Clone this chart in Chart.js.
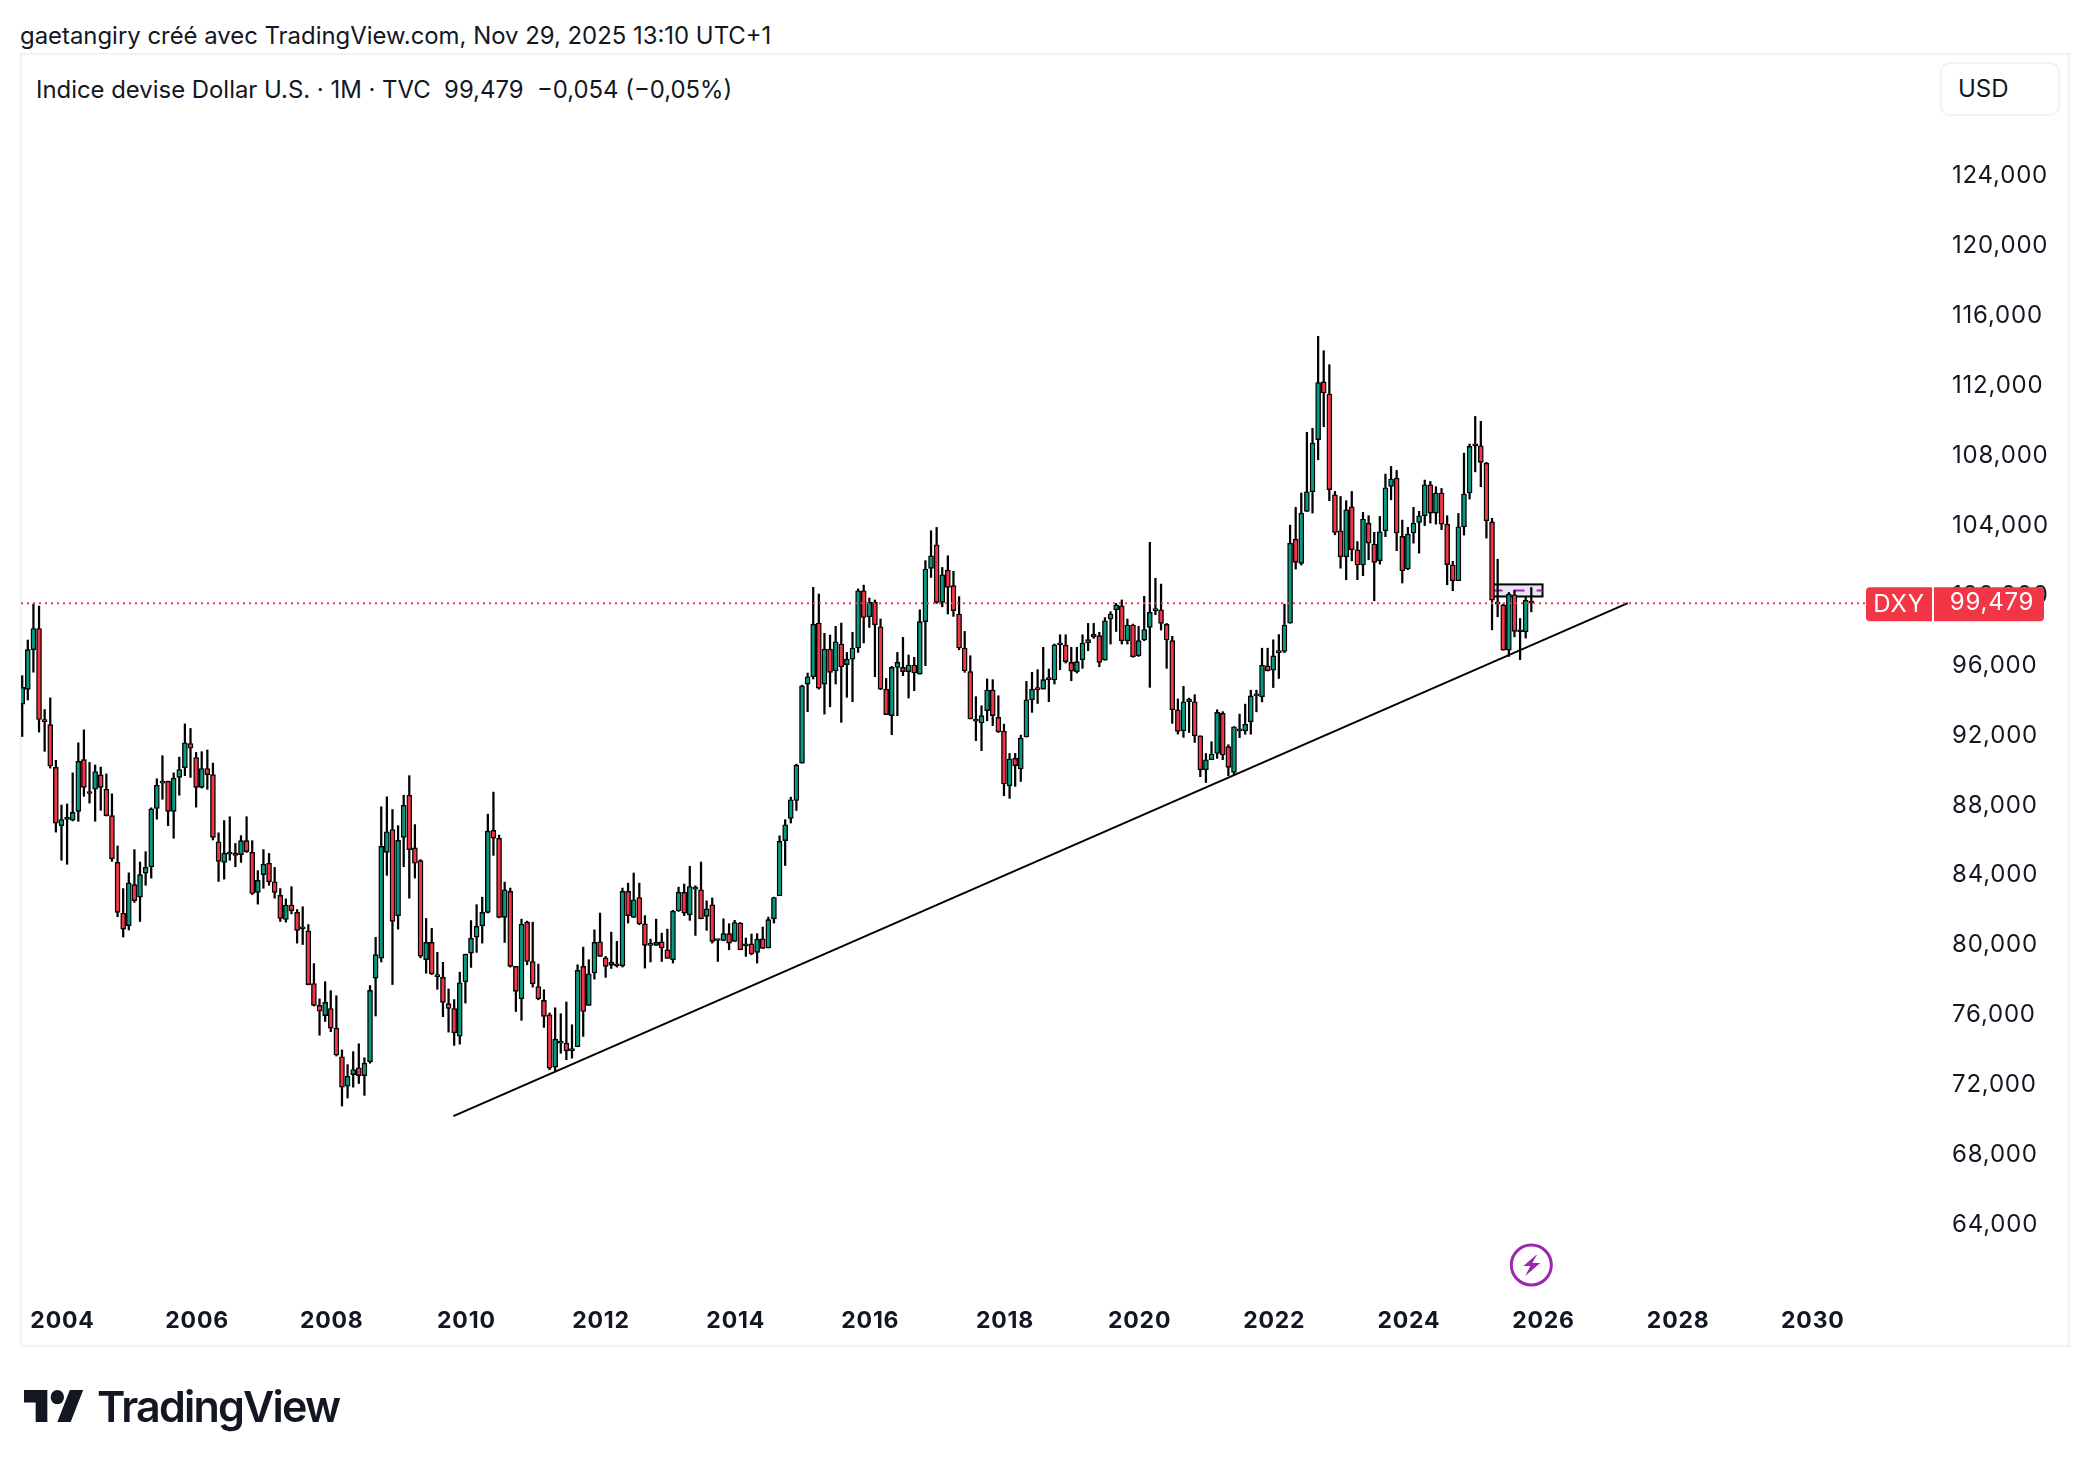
<!DOCTYPE html>
<html lang="fr">
<head>
<meta charset="utf-8">
<title>DXY</title>
<script src="https://cdn.jsdelivr.net/npm/chart.js@4/dist/chart.umd.js"></script>
<style>
    html, body { margin: 0; padding: 0; background: #fff; }
    body { width: 2088px; height: 1466px; position: relative; overflow: hidden; font-family: Inter, sans-serif; color: #131722; }
    #chart { position: absolute; left: 0; top: 0; }
    .frame { position: absolute; left: 20px; top: 53px; width: 2046px; height: 1290px; border: 2px solid #f2f3f5; }
    .byline { position: absolute; left: 20px; top: 22px; font-size: 23.9px; line-height: 28px; white-space: nowrap; }
    .legend { position: absolute; left: 36px; top: 76px; font-size: 23.9px; line-height: 28px; white-space: pre; }
    .currency { position: absolute; left: 1940px; top: 62px; width: 116px; height: 50px; border: 2px solid #f2f3f5; border-radius: 10px; font-size: 24px; line-height: 50px; text-indent: 16px; }
    .logo { position: absolute; left: 24px; top: 1390px; width: 60px; height: 32px; }
    .brand { position: absolute; left: 97px; top: 1378px; font-size: 43px; line-height: 56px; font-weight: 600; letter-spacing: -1.8px; white-space: nowrap; }
</style>
</head>
<body>
<div class="frame"></div>
<div class="byline">gaetangiry créé avec TradingView.com, Nov 29, 2025 13:10 UTC+1</div>
<div class="legend">Indice devise Dollar U.S. · 1M · TVC  99,479  −0,054 (−0,05%)</div>
<div class="currency">USD</div>
<canvas id="chart" width="2088" height="1466"></canvas>
<svg class="logo" viewBox="0 4 36 18" preserveAspectRatio="none"><path fill="#131722" d="M14 22H7V11H0V4h14v18zM28 22h-8l7.5-18h8L28 22z"/><circle fill="#131722" cx="20" cy="8" r="4"/></svg>
<div class="brand">TradingView</div>
<script>
// Bougies mensuelles, de juin 2003 à novembre 2025 (une ligne par année)
const firstYear = 2003;
const firstMonth = 5;

const opens = [
    93.70, 94.55, 96.82, 98.03, 92.78, 92.53, 90.08,
    86.75, 87.10, 87.06, 87.57, 90.53, 88.69, 88.83, 89.65, 88.83, 87.32, 84.65, 81.74,
    81.03, 83.38, 82.66, 84.03, 84.40, 87.73, 89.18, 89.30, 87.57, 89.51, 90.06, 91.45,
    90.65, 88.94, 90.02, 89.67, 85.83, 84.65, 85.12, 85.18, 85.09, 85.89, 85.22, 82.93,
    83.95, 84.60, 83.54, 82.76, 81.38, 82.21, 81.79, 80.89, 80.72, 77.72, 76.47, 75.88,
    76.29, 75.17, 73.53, 71.84, 72.51, 72.90, 72.45, 73.24, 78.03, 79.17, 85.22, 86.53,
    81.60, 86.08, 88.49, 85.48, 84.75, 79.09, 80.07, 78.23, 78.07, 76.57, 76.29, 74.70,
    77.82, 79.46, 80.37, 81.02, 81.79, 86.48, 86.02, 81.50, 82.99, 78.70, 76.85, 81.23,
    78.98, 77.55, 76.75, 75.93, 72.94, 74.31, 74.31, 73.87, 74.10, 78.70, 76.47, 78.32,
    80.11, 79.19, 78.77, 78.85, 78.73, 82.99, 81.50, 82.64, 81.14, 79.90, 79.90, 80.11,
    79.65, 79.08, 81.88, 82.93, 81.65, 83.12, 83.08, 81.56, 82.22, 80.20, 80.18, 80.57,
    80.13, 81.18, 79.88, 79.99, 79.50, 80.28, 79.75, 81.42, 82.74, 85.89, 87.16, 88.19,
    90.33, 94.85, 95.27, 98.34, 94.85, 96.85, 95.61, 97.14, 95.96, 96.28, 96.91, 100.19,
    98.70, 99.52, 98.13, 94.56, 93.04, 95.80, 95.80, 95.56, 95.94, 95.42, 98.42, 101.47,
    102.82, 99.52, 101.37, 100.48, 98.86, 96.91, 95.56, 92.85, 92.62, 93.33, 94.51, 92.94,
    92.16, 89.03, 90.60, 89.99, 91.82, 93.95, 94.56, 94.56, 95.17, 95.08, 97.10, 97.08,
    96.09, 95.56, 96.24, 97.20, 97.54, 97.62, 96.22, 98.57, 99.10, 99.33, 97.33, 98.23,
    96.47, 97.37, 98.09, 99.05, 99.10, 98.26, 97.33, 93.38, 92.18, 93.84, 93.84, 91.89,
    89.95, 90.52, 90.88, 93.17, 91.27, 89.80, 92.17, 92.17, 92.69, 94.17, 94.12, 95.89,
    95.64, 96.65, 96.71, 98.33, 103.14, 101.75, 104.73, 105.85, 108.83, 112.14, 111.44, 105.68,
    103.62, 102.13, 104.99, 102.53, 101.66, 104.06, 102.86, 101.90, 103.62, 106.16, 106.63, 103.30,
    101.43, 103.49, 104.10, 104.48, 106.25, 104.63, 105.78, 104.00, 101.66, 100.76, 103.85, 105.78,
    108.52, 108.48, 107.49, 104.13, 99.54, 99.38, 96.79, 99.96, 97.84, 97.84, 99.53
];
const highs = [
    95.33, 97.37, 99.42, 99.31, 93.39, 94.06, 90.49,
    87.93, 87.99, 89.77, 91.49, 92.23, 90.37, 90.22, 90.10, 89.71, 88.57, 85.59, 83.15,
    84.05, 85.38, 84.67, 85.26, 87.77, 89.43, 90.75, 89.30, 89.77, 90.67, 92.57, 92.31,
    90.94, 90.98, 91.08, 90.33, 86.34, 87.04, 87.26, 85.73, 86.18, 87.26, 85.89, 84.18,
    85.38, 85.16, 84.36, 83.15, 82.56, 83.26, 81.95, 82.11, 81.09, 78.86, 76.84, 77.82,
    77.31, 77.02, 73.92, 73.08, 73.82, 74.27, 73.47, 77.60, 80.36, 87.83, 88.40, 87.67,
    86.75, 88.49, 89.61, 86.81, 84.81, 81.44, 80.87, 79.50, 78.93, 77.41, 76.80, 78.37,
    79.40, 81.32, 82.23, 82.66, 87.41, 88.67, 86.21, 83.52, 83.18, 78.70, 81.40, 81.29,
    81.23, 78.83, 77.36, 76.03, 76.33, 75.99, 76.66, 75.36, 78.79, 79.80, 79.08, 80.79,
    81.75, 79.27, 80.66, 80.13, 83.18, 83.46, 84.04, 83.46, 81.60, 80.26, 81.40, 80.60,
    80.83, 81.90, 83.23, 83.41, 84.42, 83.31, 84.67, 82.45, 82.61, 80.22, 81.42, 81.14,
    81.33, 81.21, 80.32, 80.55, 80.57, 80.95, 81.52, 82.66, 86.17, 87.09, 88.38, 90.27,
    94.79, 95.48, 100.38, 100.00, 97.75, 97.65, 98.15, 98.34, 96.66, 97.81, 100.29, 100.51,
    99.77, 99.66, 98.57, 95.17, 95.86, 96.66, 97.52, 96.51, 96.38, 99.10, 101.91, 103.62,
    103.81, 101.52, 102.19, 101.30, 99.85, 97.86, 96.47, 94.13, 93.61, 95.14, 95.10, 94.18,
    92.56, 90.88, 90.88, 91.93, 95.00, 95.52, 95.67, 96.95, 95.71, 97.14, 97.67, 97.67,
    96.95, 96.95, 97.67, 98.32, 98.32, 97.81, 98.65, 98.99, 99.46, 99.66, 98.57, 98.28,
    98.15, 99.87, 102.96, 100.90, 100.57, 98.32, 97.58, 94.00, 94.72, 94.05, 94.24, 91.89,
    90.88, 91.55, 93.38, 93.27, 91.38, 92.41, 93.13, 93.70, 94.50, 94.50, 96.90, 96.90,
    97.38, 97.68, 99.42, 103.94, 104.96, 105.78, 109.25, 109.48, 114.74, 113.92, 113.12, 105.87,
    105.58, 105.34, 105.87, 103.00, 104.67, 104.48, 103.53, 104.44, 106.86, 107.30, 107.07, 104.23,
    103.81, 104.96, 104.73, 106.52, 106.44, 106.14, 106.04, 104.48, 101.87, 104.61, 108.06, 108.58,
    110.16, 109.88, 107.53, 104.33, 101.99, 99.42, 100.09, 100.22, 98.60, 99.80, 100.37
];
const lows = [
    91.85, 93.94, 95.53, 92.10, 91.00, 90.04, 86.38,
    84.77, 84.54, 87.02, 87.00, 88.43, 88.04, 87.00, 87.63, 87.30, 84.71, 81.54, 80.38,
    80.78, 82.36, 81.27, 83.34, 83.75, 87.12, 88.26, 86.75, 86.03, 88.49, 89.61, 89.51,
    87.81, 88.90, 88.83, 85.93, 83.56, 83.69, 84.77, 84.40, 84.65, 85.22, 82.81, 82.26,
    83.17, 83.34, 82.60, 81.27, 81.23, 81.70, 80.03, 79.95, 77.64, 76.43, 74.76, 75.55,
    74.96, 73.57, 70.71, 71.17, 71.79, 72.00, 71.32, 73.16, 75.86, 78.95, 83.91, 77.66,
    80.83, 84.40, 82.60, 83.75, 79.19, 78.31, 78.23, 77.39, 75.82, 74.94, 74.18, 74.25,
    76.60, 78.64, 79.50, 80.03, 81.75, 85.05, 81.48, 80.07, 78.66, 76.12, 75.61, 78.79,
    77.51, 76.79, 75.21, 72.79, 72.69, 73.73, 73.36, 73.45, 74.10, 74.69, 76.47, 77.97,
    79.27, 78.07, 78.58, 78.66, 78.66, 81.18, 81.50, 81.08, 78.60, 78.95, 79.90, 78.98,
    79.15, 78.89, 81.84, 81.60, 81.33, 80.47, 81.42, 80.76, 80.03, 78.98, 80.16, 79.65,
    80.13, 79.65, 79.27, 79.36, 78.89, 79.73, 79.75, 81.18, 82.74, 84.47, 86.90, 87.62,
    90.33, 93.27, 95.14, 94.56, 93.13, 93.55, 94.85, 92.66, 94.09, 93.84, 96.66, 97.20,
    98.09, 95.27, 94.53, 93.10, 91.95, 93.04, 95.33, 94.05, 94.47, 95.42, 95.90, 100.95,
    99.46, 99.27, 98.86, 98.72, 96.81, 95.52, 92.85, 91.61, 91.04, 92.75, 92.47, 92.08,
    88.46, 88.31, 89.00, 89.28, 91.82, 93.23, 93.74, 94.56, 93.84, 94.85, 95.67, 96.05,
    95.04, 95.48, 95.75, 96.76, 97.46, 95.84, 96.22, 97.14, 97.86, 97.14, 97.14, 96.38,
    96.43, 97.33, 94.66, 98.82, 97.94, 95.75, 92.60, 91.99, 91.80, 92.08, 91.51, 89.55,
    89.22, 90.52, 90.60, 90.52, 89.61, 89.64, 91.79, 91.98, 91.98, 93.26, 93.83, 95.60,
    94.65, 95.17, 96.65, 98.33, 101.43, 101.66, 104.73, 104.63, 107.68, 109.57, 105.34, 103.39,
    101.48, 100.82, 101.90, 100.82, 101.05, 101.96, 99.62, 101.71, 103.28, 105.39, 102.48, 100.63,
    101.39, 102.91, 102.34, 103.91, 104.06, 104.00, 103.68, 100.53, 100.19, 100.76, 103.37, 105.43,
    106.99, 106.14, 103.20, 97.95, 98.70, 96.79, 96.43, 97.55, 96.24, 97.48, 98.98
];
const closes = [
    94.66, 96.82, 98.03, 92.82, 92.70, 90.16, 86.89,
    87.10, 87.22, 87.51, 90.43, 88.94, 88.59, 89.85, 88.94, 87.32, 84.85, 81.79, 80.83,
    83.48, 82.46, 83.95, 84.36, 87.71, 89.06, 89.26, 87.57, 89.47, 89.96, 91.49, 91.18,
    88.94, 90.02, 89.67, 86.08, 84.71, 85.18, 85.18, 85.05, 85.89, 85.26, 82.87, 83.62,
    84.54, 83.54, 82.93, 81.44, 82.21, 81.89, 80.76, 80.85, 77.66, 76.47, 76.13, 76.64,
    75.17, 73.63, 71.79, 72.41, 72.80, 72.45, 73.16, 77.33, 79.37, 85.56, 86.40, 81.27,
    85.91, 87.91, 85.38, 84.60, 79.29, 80.07, 78.27, 78.11, 76.64, 76.29, 74.90, 77.76,
    79.40, 80.31, 80.99, 81.79, 86.44, 86.04, 81.50, 83.08, 78.70, 77.27, 81.12, 78.98,
    77.70, 76.85, 75.84, 72.88, 74.54, 74.37, 73.87, 74.00, 78.47, 76.12, 78.28, 80.07,
    79.27, 78.70, 78.93, 78.73, 82.99, 81.60, 82.51, 81.14, 79.90, 79.92, 80.07, 79.75,
    79.15, 81.86, 82.93, 81.75, 83.27, 83.18, 81.42, 81.99, 80.13, 80.18, 80.57, 80.03,
    81.21, 79.65, 79.99, 79.42, 80.26, 79.73, 81.37, 82.64, 85.85, 86.80, 88.23, 90.21,
    94.75, 95.27, 98.28, 94.62, 96.85, 95.52, 97.27, 95.84, 96.28, 96.91, 100.19, 98.66,
    99.52, 98.24, 94.56, 93.10, 95.80, 96.09, 95.56, 95.94, 95.48, 98.42, 101.43, 102.19,
    99.52, 101.10, 100.38, 99.05, 96.91, 95.61, 92.85, 92.73, 93.04, 94.51, 93.04, 92.12,
    89.13, 90.56, 90.18, 91.76, 93.95, 94.56, 94.53, 95.10, 95.10, 97.10, 97.20, 96.13,
    95.59, 96.13, 97.20, 97.39, 97.69, 96.09, 98.47, 98.86, 99.37, 97.33, 98.23, 96.41,
    97.33, 97.97, 98.95, 99.10, 98.32, 97.37, 93.38, 92.14, 93.84, 93.99, 91.89, 89.95,
    90.52, 90.85, 93.23, 90.79, 90.08, 92.41, 92.27, 92.55, 94.17, 94.23, 95.93, 95.60,
    96.46, 96.69, 98.22, 102.91, 101.81, 104.63, 105.85, 108.64, 112.10, 111.50, 105.97, 103.52,
    102.13, 104.82, 102.53, 101.66, 104.29, 102.91, 101.81, 103.56, 106.08, 106.58, 103.49, 101.33,
    103.43, 104.06, 104.48, 106.25, 104.63, 105.78, 104.00, 101.68, 100.76, 103.85, 105.72, 108.45,
    108.48, 107.53, 104.19, 99.65, 99.42, 96.79, 99.99, 97.86, 97.86, 99.65, 99.479
];

const yearLabels = ['2004', '2006', '2008', '2010', '2012', '2014', '2016', '2018', '2020', '2022', '2024', '2026', '2028', '2030'];
const priceTicks = [64, 68, 72, 76, 80, 84, 88, 92, 96, 100, 104, 108, 112, 116, 120, 124];

// Droite de tendance tracée sur le graphique (mois, prix)
const trendMonths = [76.86, 286.2];
const trendPrices = [70.13, 99.48];

// Rectangle violet à droite des dernières bougies
const zoneMonths = [262.1, 271];
const zonePrices = [100.55, 99.86];

const symbol = 'DXY';
const upColor = '#089981';
const downColor = '#f23645';
const inkColor = '#131722';
const lastClose = closes[closes.length - 1];

const xMin = -0.214;
const xMax = 328.66;
const yMin = 60.186;
const yMax = 130.836;

const formatPrice = (value) => value.toFixed(3).replace('.', ',');
const yearToIndex = (year) => (Number(year) - firstYear) * 12 - firstMonth;

const wicks = lows.map((low, i) => ({ x: i, y: [low, highs[i]] }));
const bodies = opens.map((open, i) => ({ x: i, y: [open, closes[i]] }));
const bodyColors = opens.map((open, i) => (closes[i] >= open ? upColor : downColor));

// Rectangle, éclair et étiquette de prix, placés avec les échelles du graphique
const overlayPlugin = {
    id: 'overlay',
    beforeDraw(chart) {
        chart.ctx.letterSpacing = '0.8px';
    },
    beforeDatasetsDraw(chart) {
        const { ctx, scales: { x, y } } = chart;
        const left = x.getPixelForValue(zoneMonths[0]);
        const right = x.getPixelForValue(zoneMonths[1]);
        const top = y.getPixelForValue(zonePrices[0]);
        const bottom = y.getPixelForValue(zonePrices[1]);
        ctx.save();
        ctx.fillStyle = '#ebe5f5';
        ctx.strokeStyle = '#000';
        ctx.lineWidth = 2;
        ctx.fillRect(left, top, right - left, bottom - top);
        ctx.strokeRect(left, top, right - left, bottom - top);
        ctx.beginPath();
        ctx.setLineDash([10, 12]);
        ctx.strokeStyle = '#9c27b0';
        ctx.moveTo(left, (top + bottom) / 2);
        ctx.lineTo(right, (top + bottom) / 2);
        ctx.stroke();
        ctx.restore();
    },
    afterDraw(chart) {
        const { ctx, scales: { x, y } } = chart;
        const priceY = y.getPixelForValue(lastClose);
        ctx.save();

        // Étiquette du prix
        ctx.fillStyle = downColor;
        ctx.beginPath();
        ctx.roundRect(1866, priceY - 16, 66, 34, [4, 0, 0, 4]);
        ctx.roundRect(1934, priceY - 16, 110, 34, [0, 4, 4, 0]);
        ctx.fill();
        ctx.fillStyle = '#fff';
        ctx.font = '24px Inter';
        ctx.textAlign = 'center';
        ctx.textBaseline = 'middle';
        ctx.fillText(symbol, 1899, priceY + 2);
        ctx.fillText(formatPrice(lastClose), 1992, priceY);

        // Marqueur violet sous la dernière bougie
        const cx = x.getPixelForValue(opens.length - 1);
        const cy = 1265;
        ctx.strokeStyle = '#9c27b0';
        ctx.lineWidth = 3;
        ctx.beginPath();
        ctx.arc(cx, cy, 20, 0, Math.PI * 2);
        ctx.stroke();
        ctx.fillStyle = '#9c27b0';
        ctx.beginPath();
        ctx.moveTo(cx + 6, cy - 11);
        ctx.lineTo(cx - 8, cy + 1);
        ctx.lineTo(cx - 1, cy + 1);
        ctx.lineTo(cx - 6, cy + 11);
        ctx.lineTo(cx + 9, cy - 2);
        ctx.lineTo(cx + 1, cy - 2);
        ctx.closePath();
        ctx.fill();
        ctx.restore();
    }
};

new Chart(document.getElementById('chart'), {
    type: 'bar',
    data: {
        datasets: [
            {
                type: 'line',
                data: [{ x: xMin, y: lastClose }, { x: xMax, y: lastClose }],
                borderColor: downColor,
                borderWidth: 2,
                borderDash: [2, 4],
                pointRadius: 0,
                order: 0
            },
            {
                type: 'line',
                data: trendMonths.map((month, i) => ({ x: month, y: trendPrices[i] })),
                borderColor: '#000',
                borderWidth: 2,
                pointRadius: 0,
                order: 1
            },
            {
                data: bodies,
                backgroundColor: bodyColors,
                borderColor: '#000',
                borderWidth: 1.4,
                borderSkipped: false,
                barThickness: 5,
                minBarLength: 2,
                grouped: false,
                order: 2
            },
            {
                data: wicks,
                backgroundColor: '#000',
                borderWidth: 0,
                barThickness: 1.6,
                grouped: false,
                order: 3
            }
        ]
    },
    options: {
        responsive: false,
        animation: false,
        devicePixelRatio: 1,
        layout: { autoPadding: false, padding: { left: 21, top: 55, right: 20, bottom: 121 } },
        plugins: { legend: { display: false }, tooltip: { enabled: false } },
        scales: {
            x: {
                type: 'linear',
                offset: false,
                min: xMin,
                max: xMax,
                grid: { display: false },
                border: { display: false },
                afterFit: (scale) => { scale.height = 55; },
                afterBuildTicks: (scale) => {
                    scale.ticks = yearLabels.map((label) => ({ value: yearToIndex(label) }));
                },
                ticks: {
                    autoSkip: false,
                    maxRotation: 0,
                    padding: 9,
                    labelOffset: 1,
                    color: inkColor,
                    font: { family: 'Inter', size: 23, weight: '700' },
                    callback: (value) => String(firstYear + (value + firstMonth) / 12)
                }
            },
            y: {
                position: 'right',
                min: yMin,
                max: yMax,
                grid: { display: false, tickLength: 86 },
                border: { display: false },
                afterFit: (scale) => { scale.width = 202; },
                afterBuildTicks: (scale) => {
                    scale.ticks = priceTicks.map((value) => ({ value }));
                },
                ticks: {
                    autoSkip: false,
                    crossAlign: 'near',
                    padding: 0,
                    labelOffset: 1.5,
                    color: inkColor,
                    font: { family: 'Inter', size: 24 },
                    callback: (value) => formatPrice(value)
                }
            }
        }
    },
    plugins: [overlayPlugin]
});
</script>
</body>
</html>
